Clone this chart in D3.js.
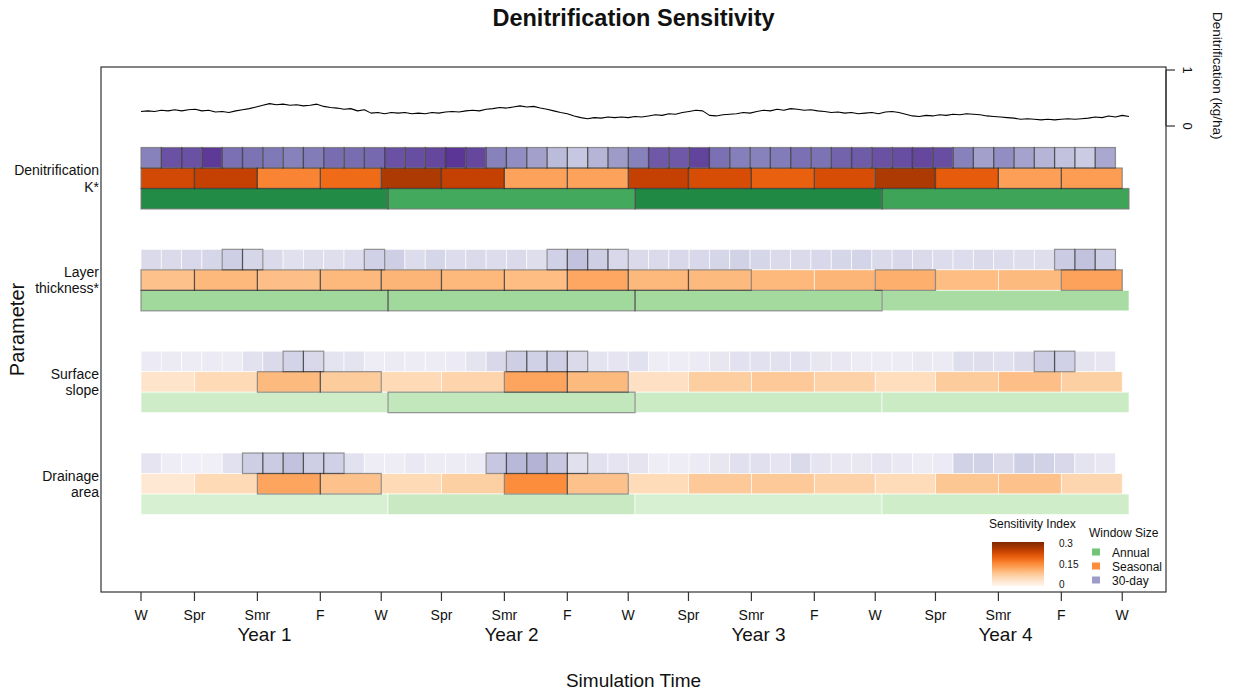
<!DOCTYPE html>
<html>
<head>
<meta charset="utf-8">
<script src="https://cdn.jsdelivr.net/npm/d3@7"></script>
<style>
  body { margin: 0; background: #fff; }
  text { font-family: Arial, "Liberation Sans", sans-serif; fill: #111; }
</style>
</head>
<body>
<svg id="chart" width="1239" height="694"></svg>
<script>
// ---- Parameters and axis labels ----
const params = ["Denitrification K*", "Layer thickness*", "Surface slope", "Drainage area"];
const paramLines = [["Denitrification", "K*"], ["Layer", "thickness*"], ["Surface", "slope"], ["Drainage", "area"]];
const years = ["Year 1", "Year 2", "Year 3", "Year 4"];
// Season boundaries in simulation days (also the x tick positions)
const seasonDays = [0, 79, 172, 265, 355, 444, 537, 630, 720, 809, 902, 995, 1085, 1174, 1267, 1360, 1450];
const seasonLabels = ["W", "Spr", "Smr", "F", "W", "Spr", "Smr", "F", "W", "Spr", "Smr", "F", "W", "Spr", "Smr", "F", "W"];
const yearDays = [0, 365, 730, 1095, 1460];
const windowDays30 = 30;

// ---- Sensitivity index per window (30-day, seasonal, annual) ----
const denK30 = [0.180, 0.225, 0.225, 0.246, 0.198, 0.195, 0.189, 0.180, 0.186, 0.201, 0.201, 0.204,
                0.225, 0.228, 0.234, 0.249, 0.234, 0.180, 0.165, 0.144, 0.114, 0.099, 0.120, 0.150,
                0.180, 0.219, 0.219, 0.237, 0.198, 0.183, 0.180, 0.186, 0.198, 0.195, 0.210, 0.216,
                0.225, 0.228, 0.234, 0.228, 0.180, 0.144, 0.165, 0.141, 0.120, 0.105, 0.093, 0.135];
const denKSeason = [0.228, 0.240, 0.159, 0.186, 0.258, 0.240, 0.126, 0.126,
                    0.240, 0.222, 0.198, 0.222, 0.258, 0.204, 0.129, 0.132];
const denKAnnual = [0.225, 0.189, 0.228, 0.195];

const layer30 = [0.072, 0.072, 0.075, 0.078, 0.090, 0.078, 0.072, 0.063, 0.066, 0.066, 0.069, 0.087,
                 0.090, 0.069, 0.078, 0.069, 0.072, 0.069, 0.072, 0.066, 0.087, 0.105, 0.090, 0.075,
                 0.072, 0.072, 0.075, 0.075, 0.078, 0.084, 0.078, 0.072, 0.072, 0.075, 0.078, 0.081,
                 0.072, 0.075, 0.072, 0.069, 0.069, 0.072, 0.069, 0.066, 0.066, 0.093, 0.105, 0.090];
const layerSeason = [0.090, 0.102, 0.093, 0.102, 0.105, 0.102, 0.096, 0.120,
                     0.102, 0.099, 0.102, 0.105, 0.111, 0.096, 0.099, 0.126];
const layerAnnual = [0.111, 0.111, 0.108, 0.105];

const slope30 = [0.042, 0.042, 0.039, 0.042, 0.039, 0.060, 0.072, 0.081, 0.075, 0.057, 0.057, 0.036,
                 0.042, 0.039, 0.039, 0.042, 0.057, 0.075, 0.090, 0.087, 0.090, 0.072, 0.057, 0.054,
                 0.060, 0.036, 0.036, 0.042, 0.051, 0.060, 0.060, 0.060, 0.060, 0.051, 0.048, 0.039,
                 0.039, 0.039, 0.045, 0.042, 0.066, 0.066, 0.063, 0.072, 0.090, 0.087, 0.057, 0.051];
const slopeSeason = [0.039, 0.057, 0.099, 0.078, 0.057, 0.066, 0.123, 0.099,
                     0.045, 0.075, 0.081, 0.069, 0.051, 0.078, 0.093, 0.072];
const slopeAnnual = [0.066, 0.078, 0.069, 0.069];

const drain30 = [0.054, 0.036, 0.033, 0.030, 0.060, 0.090, 0.093, 0.105, 0.090, 0.087, 0.060, 0.036,
                 0.036, 0.045, 0.039, 0.039, 0.042, 0.099, 0.117, 0.123, 0.099, 0.063, 0.060, 0.054,
                 0.054, 0.036, 0.036, 0.042, 0.051, 0.063, 0.063, 0.054, 0.072, 0.054, 0.048, 0.048,
                 0.054, 0.045, 0.039, 0.042, 0.084, 0.084, 0.072, 0.090, 0.084, 0.075, 0.057, 0.048];
const drainSeason = [0.030, 0.057, 0.123, 0.090, 0.057, 0.072, 0.150, 0.090,
                     0.054, 0.081, 0.081, 0.069, 0.054, 0.084, 0.090, 0.063];
const drainAnnual = [0.054, 0.072, 0.054, 0.063];

// ---- Windows flagged as significant (outlined), by window index ----
const denK30Sig = [0,1,2,3,4,5,6,7,8,9,10,11,12,13,14,15,16,17,18,19,20,21,22,23,
                   24,25,26,27,28,29,30,31,32,33,34,35,36,37,38,39,40,41,42,43,44,45,46,47];
const denKSeasonSig = [0,1,2,3,4,5,6,7,8,9,10,11,12,13,14,15];
const denKAnnualSig = [0,1,2,3];
const layer30Sig = [4,5,11,20,21,22,23,45,46,47];
const layerSeasonSig = [0,1,2,3,4,5,6,7,8,9,12,15];
const layerAnnualSig = [0,1,2];
const slope30Sig = [7,8,18,19,20,21,44,45];
const slopeSeasonSig = [2,3,6,7];
const slopeAnnualSig = [1];
const drain30Sig = [5,6,7,8,9,17,18,19,20,21];
const drainSeasonSig = [2,3,6,7];
const drainAnnualSig = [];

// ---- Simulated denitrification (kg/ha), sampled every 10 days ----
const denitStepDays = 10;
const denitValues = [
  0.26, 0.27, 0.26, 0.28, 0.27, 0.29, 0.27, 0.29, 0.30, 0.27, 0.28, 0.25, 0.26, 0.24, 0.27, 0.29,
  0.31, 0.34, 0.37, 0.40, 0.38, 0.39, 0.37, 0.38, 0.36, 0.37, 0.39, 0.35, 0.33, 0.32, 0.30, 0.31,
  0.27, 0.29, 0.23, 0.24, 0.22, 0.24, 0.23, 0.24, 0.22, 0.23, 0.22, 0.24, 0.23, 0.25, 0.26, 0.25,
  0.27, 0.28, 0.27, 0.30, 0.31, 0.33, 0.32, 0.34, 0.36, 0.34, 0.35, 0.32, 0.30, 0.27, 0.24, 0.22,
  0.18, 0.15, 0.13, 0.15, 0.14, 0.16, 0.15, 0.16, 0.15, 0.17, 0.16, 0.18, 0.20, 0.19, 0.22, 0.21,
  0.24, 0.26, 0.28, 0.27, 0.19, 0.18, 0.20, 0.21, 0.22, 0.24, 0.23, 0.26, 0.28, 0.27, 0.30, 0.28,
  0.31, 0.30, 0.28, 0.29, 0.27, 0.26, 0.24, 0.25, 0.23, 0.24, 0.22, 0.23, 0.24, 0.22, 0.25, 0.26,
  0.24, 0.21, 0.18, 0.17, 0.19, 0.18, 0.20, 0.19, 0.21, 0.20, 0.22, 0.21, 0.20, 0.18, 0.17, 0.16,
  0.15, 0.14, 0.12, 0.13, 0.12, 0.11, 0.12, 0.11, 0.12, 0.13, 0.12, 0.13, 0.14, 0.16, 0.15, 0.18,
  0.16, 0.19, 0.17
];

// ---- Sensitivity index colour range ----
const sensMax = 0.3;
const sensTicks = [0, 0.15, 0.3];
const windowNames = ["Annual", "Seasonal", "30-day"];

// ===================================================================
const svg = d3.select("#chart");
const box = { left: 101, right: 1166, top: 67, bottom: 592 };

const x = d3.scaleLinear().domain([0, 1460]).range([141, 1129]);
const yRow = d3.scalePoint().domain(params).range([178.5, 484]);
const yDen = d3.scaleLinear().domain([0, 1]).range([126, 70]);

const colPurple = d3.scaleSequential(d3.interpolatePurples).domain([0, sensMax]);
const colOrange = d3.scaleSequential(d3.interpolateOranges).domain([0, sensMax]);
const colGreen  = d3.scaleSequential(d3.interpolateGreens).domain([0, sensMax]);

const rows = [
  { p: params[0], m: denK30, s: denKSeason, a: denKAnnual, mS: denK30Sig, sS: denKSeasonSig, aS: denKAnnualSig },
  { p: params[1], m: layer30, s: layerSeason, a: layerAnnual, mS: layer30Sig, sS: layerSeasonSig, aS: layerAnnualSig },
  { p: params[2], m: slope30, s: slopeSeason, a: slopeAnnual, mS: slope30Sig, sS: slopeSeasonSig, aS: slopeAnnualSig },
  { p: params[3], m: drain30, s: drainSeason, a: drainAnnual, mS: drain30Sig, sS: drainSeasonSig, aS: drainAnnualSig }
];

const barH = 20.5;
const offsets = { m: -31, s: -10.5, a: 10 };

function cells(row) {
  const out = [];
  row.m.forEach((v, i) => out.push({ kind: "m", v, x0: i * windowDays30, x1: (i + 1) * windowDays30, sig: row.mS.includes(i), p: row.p }));
  row.s.forEach((v, i) => out.push({ kind: "s", v, x0: seasonDays[i], x1: seasonDays[i + 1], sig: row.sS.includes(i), p: row.p }));
  row.a.forEach((v, i) => out.push({ kind: "a", v, x0: yearDays[i], x1: yearDays[i + 1], sig: row.aS.includes(i), p: row.p }));
  return out;
}
const allCells = rows.flatMap(cells);
const fillOf = d => d.kind === "m" ? colPurple(d.v) : d.kind === "s" ? colOrange(d.v) : colGreen(d.v);

// Plot frame
svg.append("rect")
  .attr("x", box.left).attr("y", box.top)
  .attr("width", box.right - box.left).attr("height", box.bottom - box.top)
  .attr("fill", "none").attr("stroke", "#333").attr("stroke-width", 1.2);

// Heat cells
const gCells = svg.append("g");
gCells.selectAll("rect.cell").data(allCells).join("rect")
  .attr("class", "cell")
  .attr("x", d => x(d.x0)).attr("width", d => x(d.x1) - x(d.x0))
  .attr("y", d => yRow(d.p) + offsets[d.kind]).attr("height", barH)
  .attr("fill", fillOf)
  .attr("stroke", "#fff").attr("stroke-opacity", 0.8).attr("stroke-width", 0.8);

// Outlines for significant windows
gCells.selectAll("rect.sig").data(allCells.filter(d => d.sig)).join("rect")
  .attr("class", "sig")
  .attr("x", d => x(d.x0)).attr("width", d => x(d.x1) - x(d.x0))
  .attr("y", d => yRow(d.p) + offsets[d.kind]).attr("height", barH)
  .attr("fill", "none")
  .attr("stroke", "#000").attr("stroke-opacity", 0.42).attr("stroke-width", 1.2);

// Denitrification line
const line = d3.line()
  .x((d, i) => x(i * denitStepDays))
  .y(d => yDen(d));
svg.append("path").datum(denitValues)
  .attr("d", line).attr("fill", "none")
  .attr("stroke", "#000").attr("stroke-width", 1.1).attr("stroke-linejoin", "round");

// Right axis for denitrification
const gR = svg.append("g");
[0, 1].forEach(v => {
  gR.append("line").attr("x1", box.right).attr("x2", box.right + 9)
    .attr("y1", yDen(v)).attr("y2", yDen(v)).attr("stroke", "#333").attr("stroke-width", 1.2);
  gR.append("text")
    .attr("transform", `translate(${box.right + 17},${yDen(v)}) rotate(90)`)
    .attr("text-anchor", "middle").attr("font-size", 13).text(v);
});
gR.append("line").attr("x1", box.right).attr("x2", box.right)
  .attr("y1", yDen(0)).attr("y2", yDen(1)).attr("stroke", "#333").attr("stroke-width", 1.2);
svg.append("text")
  .attr("transform", `translate(1213,12) rotate(90)`)
  .attr("text-anchor", "start").attr("font-size", 13.5)
  .text("Denitrification (kg/ha)");

// Bottom axis: season ticks
const gX = svg.append("g");
seasonDays.forEach((d, i) => {
  gX.append("line").attr("x1", x(d)).attr("x2", x(d))
    .attr("y1", box.bottom).attr("y2", box.bottom + 9).attr("stroke", "#333").attr("stroke-width", 1.2);
  gX.append("text").attr("x", x(d)).attr("y", 620)
    .attr("text-anchor", "middle").attr("font-size", 14).text(seasonLabels[i]);
});
years.forEach((yr, i) => {
  gX.append("text").attr("x", x((yearDays[i] + yearDays[i + 1]) / 2)).attr("y", 641)
    .attr("text-anchor", "middle").attr("font-size", 19).text(yr);
});
svg.append("text").attr("x", (box.left + box.right) / 2).attr("y", 687)
  .attr("text-anchor", "middle").attr("font-size", 19).text("Simulation Time");

// Parameter labels
const gY = svg.append("g");
rows.forEach((r, i) => {
  const t = gY.append("text").attr("text-anchor", "end").attr("font-size", 14);
  t.append("tspan").attr("x", 99).attr("y", yRow(r.p) - 3.5).text(paramLines[i][0]);
  t.append("tspan").attr("x", 99).attr("y", yRow(r.p) + 13).text(paramLines[i][1]);
});
svg.append("text")
  .attr("transform", `translate(24,${(box.top + box.bottom) / 2}) rotate(-90)`)
  .attr("text-anchor", "middle").attr("font-size", 20).text("Parameter");

// Title
svg.append("text").attr("x", (box.left + box.right) / 2).attr("y", 26)
  .attr("text-anchor", "middle").attr("font-size", 23.5).attr("font-weight", "bold")
  .text("Denitrification Sensitivity");

// Legend: sensitivity gradient
const defs = svg.append("defs");
const grad = defs.append("linearGradient").attr("id", "sensGrad")
  .attr("x1", 0).attr("y1", 1).attr("x2", 0).attr("y2", 0);
d3.range(0, 1.0001, 0.1).forEach(t => {
  grad.append("stop").attr("offset", t).attr("stop-color", d3.interpolateOranges(t));
});
const legY = d3.scaleLinear().domain([0, sensMax]).range([586, 542]);
svg.append("text").attr("x", 989).attr("y", 528).attr("font-size", 12).text("Sensitivity Index");
svg.append("rect").attr("x", 992).attr("y", legY(sensMax)).attr("width", 52)
  .attr("height", legY(0) - legY(sensMax)).attr("fill", "url(#sensGrad)");
sensTicks.forEach(v => {
  svg.append("text").attr("x", 1059).attr("y", legY(v) + (v === 0 ? 2 : v === sensMax ? 5 : 4))
    .attr("font-size", 10).text(v);
});

// Legend: window size
svg.append("text").attr("x", 1089).attr("y", 537).attr("font-size", 12).text("Window Size");
const winCols = [colGreen(0.15), colOrange(0.15), colPurple(0.15)];
windowNames.forEach((n, i) => {
  const yy = 552 + i * 14;
  svg.append("rect").attr("x", 1092).attr("y", yy - 3.5).attr("width", 8).attr("height", 7).attr("fill", winCols[i]);
  svg.append("text").attr("x", 1112).attr("y", yy + 4.5).attr("font-size", 12).text(n);
});
</script>
</body>
</html>
